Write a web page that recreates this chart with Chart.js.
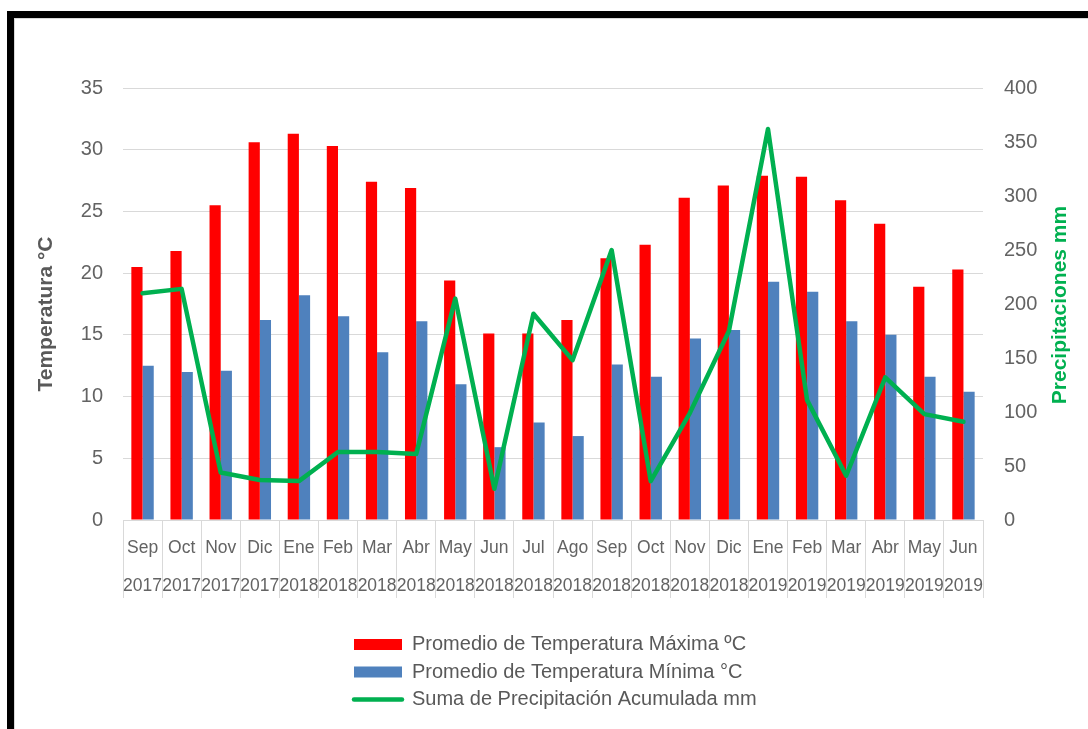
<!DOCTYPE html>
<html>
<head>
<meta charset="utf-8">
<script src="https://cdn.jsdelivr.net/npm/chart.js@4.4.1/dist/chart.umd.min.js"></script>
<style>
html,body{margin:0;padding:0;background:#fff;overflow:hidden;}
#wrap{position:relative;width:1088px;height:729px;overflow:hidden;background:#fff;}
#c{position:absolute;left:0;top:0;}
#frame{position:absolute;left:7px;top:11px;width:2000px;height:2000px;border-top:7px solid #000;border-left:7px solid #000;pointer-events:none;}
#inner{position:absolute;left:0;top:0;width:100%;height:100%;border-top:1px solid #d9d9d9;border-left:1px solid #d9d9d9;}
</style>
</head>
<body>
<div id="wrap">
<canvas id="c" width="1088" height="729"></canvas>
<div id="frame"><div id="inner"></div></div>
</div>
<script>
// ---- data ----
const months = ['Sep','Oct','Nov','Dic','Ene','Feb','Mar','Abr','May','Jun','Jul','Ago',
                'Sep','Oct','Nov','Dic','Ene','Feb','Mar','Abr','May','Jun'];
const years = ['2017','2017','2017','2017','2018','2018','2018','2018','2018','2018','2018','2018',
               '2018','2018','2018','2018','2019','2019','2019','2019','2019','2019'];
const tempMax = [20.5, 21.8, 25.5, 30.6, 31.3, 30.3, 27.4, 26.9, 19.4, 15.1, 15.1, 16.2,
                 21.2, 22.3, 26.1, 27.1, 27.9, 27.8, 25.9, 24.0, 18.9, 20.3];
const tempMin = [12.5, 12.0, 12.1, 16.2, 18.2, 16.5, 13.6, 16.1, 11.0, 5.9, 7.9, 6.8,
                 12.6, 11.6, 14.7, 15.4, 19.3, 18.5, 16.1, 15.0, 11.6, 10.4];
const precip = [210, 214, 44, 37, 36, 63, 63, 61, 205, 29, 191, 148,
                250, 36, 99, 175, 362, 111, 41, 132, 98, 91];
const seriesNames = ['Promedio de Temperatura Máxima ºC',
                     'Promedio de Temperatura Mínima °C',
                     'Suma de Precipitación Acumulada mm'];
const leftTitle = 'Temperatura °C';
const rightTitle = 'Precipitaciones mm';

const FONT = "'Liberation Sans', Arial, sans-serif";
const GREY = '#636363';
const GRID = '#d9d9d9';

const labels = months.map((m, i) => [m, years[i]]);

// Legend laid out as a single left-aligned column below the plot
const legendColumn = {
  id: 'legendColumn',
  afterInit(chart) {
    const lg = chart.legend;
    const W = 430, LEFT = 346.5;
    const fit0 = lg.fit;
    lg.fit = function () {
      const m = this.maxWidth;
      this.maxWidth = W;
      fit0.call(this);
      this.maxWidth = m;
    };
    const draw0 = lg.draw;
    lg.draw = function (area) {
      const l = this.left, r = this.right;
      this.left = LEFT; this.right = LEFT + W;
      draw0.call(this, area);
      this.left = l; this.right = r;
    };
  }
};

// Axis titles (both read bottom-to-top)
const axisTitles = {
  id: 'axisTitles',
  afterDraw(chart) {
    const ctx = chart.ctx;
    const draw = (text, x, y, color) => {
      ctx.save();
      ctx.translate(x, y);
      ctx.rotate(-Math.PI / 2);
      ctx.font = 'bold 21px ' + FONT;
      ctx.fillStyle = color;
      ctx.textAlign = 'center';
      ctx.textBaseline = 'middle';
      ctx.fillText(text, 0, 0);
      ctx.restore();
    };
    draw(leftTitle, 46, 314, '#595959');
    draw(rightTitle, 1060, 305, '#00B050');
  }
};

new Chart(document.getElementById('c'), {
  type: 'bar',
  data: {
    labels: labels,
    datasets: [
      {
        label: seriesNames[0], data: tempMax, backgroundColor: '#FF0000',
        yAxisID: 'y', order: 1, categoryPercentage: 0.573, barPercentage: 1, borderWidth: 0
      },
      {
        label: seriesNames[1], data: tempMin, backgroundColor: '#4F81BD',
        yAxisID: 'y', order: 1, categoryPercentage: 0.573, barPercentage: 1, borderWidth: 0
      },
      {
        type: 'line', label: seriesNames[2], data: precip,
        borderColor: '#00B050', backgroundColor: '#00B050', borderWidth: 4.5,
        pointRadius: 0, pointHoverRadius: 0, tension: 0, yAxisID: 'y2', order: 0,
        borderCapStyle: 'round', borderJoinStyle: 'round', fill: false
      }
    ]
  },
  options: {
    responsive: false,
    animation: false,
    devicePixelRatio: 1,
    layout: { padding: { left: 33, right: 20, top: 88, bottom: 9.5 } },
    scales: {
      x: {
        grid: { display: true, drawOnChartArea: false, drawTicks: true, tickLength: 78,
                color: GRID, lineWidth: 1, offset: true },
        border: { display: true, color: GRID },
        ticks: { autoSkip: false, maxRotation: 0, minRotation: 0, padding: -69, color: GREY,
                 font: { family: FONT, size: 17.5, lineHeight: '38px' } },
        afterFit(s) { s.height = 107; }
      },
      y: {
        position: 'left', min: 0, max: 35,
        ticks: { stepSize: 5, padding: 20, color: GREY, font: { family: FONT, size: 20 } },
        grid: { color: GRID, drawTicks: false, lineWidth: 1 },
        border: { display: false },
        afterFit(s) { s.width = 90; }
      },
      y2: {
        position: 'right', min: 0, max: 400,
        ticks: { stepSize: 50, padding: 21, color: GREY, font: { family: FONT, size: 20 } },
        grid: { drawOnChartArea: false, drawTicks: false },
        border: { display: false },
        afterFit(s) { s.width = 85; }
      }
    },
    plugins: {
      legend: {
        position: 'bottom',
        align: 'start',
        labels: {
          usePointStyle: true, pointStyleWidth: 48, boxHeight: 11, padding: 7.5,
          color: '#595959', font: { family: FONT, size: 20 },
          sort: (a, b) => a.datasetIndex - b.datasetIndex,
          generateLabels(chart) {
            const items = Chart.defaults.plugins.legend.labels.generateLabels(chart);
            items.forEach(it => {
              const ds = chart.data.datasets[it.datasetIndex];
              if (ds.type === 'line') {
                it.pointStyle = 'line'; it.strokeStyle = ds.borderColor;
                it.lineWidth = ds.borderWidth; it.lineCap = 'round';
              } else {
                it.pointStyle = 'rect'; it.lineWidth = 0;
                it.fillStyle = ds.backgroundColor; it.strokeStyle = ds.backgroundColor;
              }
            });
            return items;
          }
        }
      },
      tooltip: { enabled: false }
    }
  },
  plugins: [legendColumn, axisTitles]
});
</script>
</body>
</html>
